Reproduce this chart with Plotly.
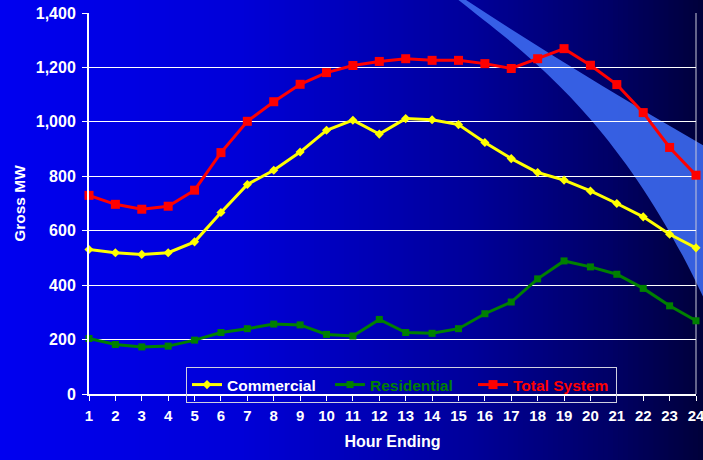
import plotly.graph_objects as go
import numpy as np

hours = list(range(1, 25))
commercial = [531, 519, 513, 519, 559, 667, 770, 822, 889, 969, 1006, 955,
              1012, 1008, 990, 924, 865, 814, 786, 746, 700, 651, 587, 537]
residential = [204, 182, 173, 176, 198, 226, 240, 257, 254, 219, 213, 274,
               226, 223, 240, 295, 338, 423, 489, 467, 440, 388, 324, 269]
total_system = [730, 697, 679, 690, 749, 887, 1002, 1074, 1138, 1181, 1207, 1222,
                1232, 1226, 1226, 1214, 1196, 1232, 1269, 1208, 1137, 1034, 906, 804]
y_ticks = [0, 200, 400, 600, 800, 1000, 1200, 1400]

W, H = 703, 460
L, R, T, B = 89, 7, 13, 66
PW, PH = W - L - R, H - T - B


def px(x):
    return (x - L) / PW


def py(y):
    return (H - B - y) / PH


shapes = []
# background horizontal gradient (bright blue -> navy)
stops_x = [0, 240, 470, 610, 703]
stops_b = [240, 216, 154, 102, 58]
n = 141
edges = np.linspace(0, W, n + 1)
for i in range(n):
    xm = (edges[i] + edges[i + 1]) / 2
    b = int(round(np.interp(xm, stops_x, stops_b)))
    shapes.append(dict(type="rect", xref="paper", yref="paper",
                       x0=px(edges[i]), x1=px(edges[i + 1] + 0.8), y0=py(H + 2), y1=py(-2),
                       fillcolor=f"rgb(0,0,{b})", line=dict(width=0), layer="below"))

# decorative swoosh band
def P(x, y):
    return f"{px(x):.5f},{py(y):.5f}"

path = ("M " + P(456, -2) + " L " + P(463, -2) +
        " Q " + P(580, 75) + " " + P(720, 155) +
        " L " + P(720, 335) +
        " C " + P(630, 120) + " " + P(520, 50) + " " + P(456, -2) + " Z")
shapes.append(dict(type="path", xref="paper", yref="paper", path=path,
                   fillcolor="rgba(60,105,240,0.9)", line=dict(width=0), layer="below"))
# right border of plot area
shapes.append(dict(type="line", xref="paper", yref="paper", x0=1, x1=1, y0=0, y1=1,
                   line=dict(color="#c8c8d8", width=1), layer="below"))

font_family = "Liberation Sans, Arial, sans-serif"

fig = go.Figure()
fig.add_trace(go.Scatter(x=hours, y=commercial, mode="lines+markers",
                         name="Commercial",
                         line=dict(color="#ffff00", width=3),
                         marker=dict(symbol="diamond", size=7, color="#ffff00"),
                         cliponaxis=False))
fig.add_trace(go.Scatter(x=hours, y=residential, mode="lines+markers",
                         name="<span style='color:#008000'>Residential</span>",
                         line=dict(color="#008000", width=3),
                         marker=dict(symbol="square", size=7, color="#008000"),
                         cliponaxis=False))
fig.add_trace(go.Scatter(x=hours, y=total_system, mode="lines+markers",
                         name="<span style='color:#ff0000'>Total System</span>",
                         line=dict(color="#ff0000", width=3),
                         marker=dict(symbol="square", size=9, color="#ff0000"),
                         cliponaxis=False))

fig.update_layout(
    width=W, height=H,
    margin=dict(l=L, r=R, t=T, b=B, pad=0, autoexpand=False),
    paper_bgcolor="rgb(0,0,240)",
    plot_bgcolor="rgba(0,0,0,0)",
    font=dict(family=font_family, color="white", size=15),
    shapes=shapes,
    showlegend=True,
    legend=dict(orientation="h", x=px(186), y=py(367), xanchor="left", yanchor="top",
                bgcolor="rgba(0,0,0,0)", bordercolor="#d0d0e0", borderwidth=1,
                font=dict(family=font_family, size=15.5, color="white", weight="bold"),
                entrywidth=98, entrywidthmode="pixels"),
    xaxis=dict(range=[1, 24], tickmode="array", tickvals=hours,
               ticktext=[f"<b>{h}</b>" for h in hours],
               showgrid=False, zeroline=False, showline=True, linecolor="white", linewidth=2,
               ticks="outside", ticklen=5, tickcolor="white", tickwidth=1,
               tickfont=dict(family=font_family, size=15, color="white"),
               ticklabelstandoff=2, automargin=False, ticklabeloverflow="allow",
               title=dict(text="<b>Hour Ending</b>", font=dict(size=16, color="white"), standoff=13)),
    yaxis=dict(range=[0, 1400], tickmode="array", tickvals=y_ticks,
               ticktext=[f"<b>{v:,}</b>" for v in y_ticks],
               showgrid=True, gridcolor="white", gridwidth=1,
               zeroline=False, showline=True, linecolor="white", linewidth=2,
               ticks="outside", ticklen=5, tickcolor="white", tickwidth=1,
               tickfont=dict(family=font_family, size=16, color="white"),
               ticklabelstandoff=3, automargin=False, ticklabeloverflow="allow",
               title=dict(text="<b>Gross MW</b>", font=dict(size=15.5, color="white"), standoff=6)),
)

fig.write_html("out.html", config={"displayModeBar": False},
               post_script="document.body.style.margin='0';document.body.style.overflow='hidden';")
